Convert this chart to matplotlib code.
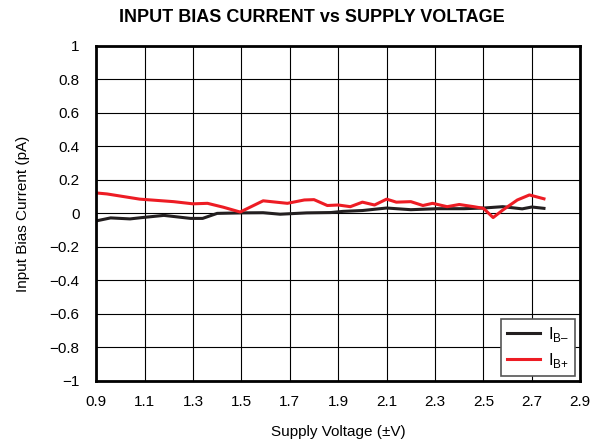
import matplotlib.pyplot as plt
from matplotlib.ticker import FixedLocator

plt.rcParams['font.family'] = ['Liberation Sans', 'DejaVu Sans']
plt.rcParams['mathtext.fontset'] = 'custom'
plt.rcParams['mathtext.rm'] = 'Liberation Sans'

# Supply voltage (V) and bias currents (pA)
v_neg = [0.9, 0.96, 1.04, 1.09, 1.18, 1.29, 1.34, 1.4, 1.5, 1.59, 1.66, 1.77,
         1.87, 1.92, 2.0, 2.1, 2.2, 2.31, 2.42, 2.5, 2.58, 2.66, 2.7, 2.75]
ib_neg = [-0.045, -0.027, -0.033, -0.025, -0.012, -0.03, -0.03, 0.0, 0.003, 0.004,
          -0.005, 0.003, 0.005, 0.012, 0.017, 0.032, 0.022, 0.028, 0.028, 0.032,
          0.04, 0.027, 0.038, 0.03]

v_pos = [0.9, 0.945, 1.08, 1.22, 1.3, 1.36, 1.425, 1.495, 1.59, 1.69, 1.76, 1.8,
         1.855, 1.9, 1.95, 2.0, 2.05, 2.1, 2.14, 2.2, 2.25, 2.29, 2.35, 2.4,
         2.46, 2.5, 2.54, 2.58, 2.64, 2.69, 2.75]
ib_pos = [0.122, 0.116, 0.085, 0.07, 0.057, 0.06, 0.037, 0.008, 0.075, 0.06, 0.08,
          0.082, 0.047, 0.05, 0.04, 0.067, 0.05, 0.085, 0.067, 0.07, 0.047, 0.06,
          0.04, 0.053, 0.04, 0.03, -0.025, 0.02, 0.08, 0.11, 0.087]

x_ticks = [0.9, 1.1, 1.3, 1.5, 1.7, 1.9, 2.1, 2.3, 2.5, 2.7, 2.9]
y_ticks = [-1, -0.8, -0.6, -0.4, -0.2, 0, 0.2, 0.4, 0.6, 0.8, 1]

fig = plt.figure(figsize=(5.97, 4.45), dpi=100)
ax = fig.add_axes([0.161, 0.144, 0.811, 0.753])

ax.plot(v_neg, ib_neg, color='#231f20', lw=2.2, label='I$_{\\mathregular{B\u2013}}$')
ax.plot(v_pos, ib_pos, color='#ed1c24', lw=2.2, label='I$_{\\mathregular{B{+}}}$')

ax.set_xlim(0.9, 2.9)
ax.set_ylim(-1, 1)
ax.xaxis.set_major_locator(FixedLocator(x_ticks))
ax.yaxis.set_major_locator(FixedLocator(y_ticks))
ax.set_xticklabels([f'{t:g}' for t in x_ticks])
ax.set_yticklabels([f'{t:g}'.replace('-', '\u2212') for t in y_ticks])
ax.tick_params(axis='y', length=0, pad=12, labelsize=11)
ax.tick_params(axis='x', length=0, pad=10, labelsize=11)
ax.grid(True, color='black', lw=0.8)
for s in ax.spines.values():
    s.set_linewidth(2)

ax.set_xlabel('Supply Voltage (\u00b1V)', fontsize=11, labelpad=12)
ax.set_ylabel('Input Bias Current (pA)', fontsize=11, labelpad=14)
fig.suptitle('INPUT BIAS CURRENT vs SUPPLY VOLTAGE', fontsize=13, fontweight='bold',
             x=0.523, y=0.98)

leg = ax.legend(loc='lower right', fontsize=12, fancybox=False, framealpha=1,
                edgecolor='#555555', borderaxespad=0.3, handlelength=2.0,
                handletextpad=0.5, borderpad=0.35, labelspacing=0.45)
leg.get_frame().set_linewidth(1.2)

plt.savefig('out.png', dpi=100)
